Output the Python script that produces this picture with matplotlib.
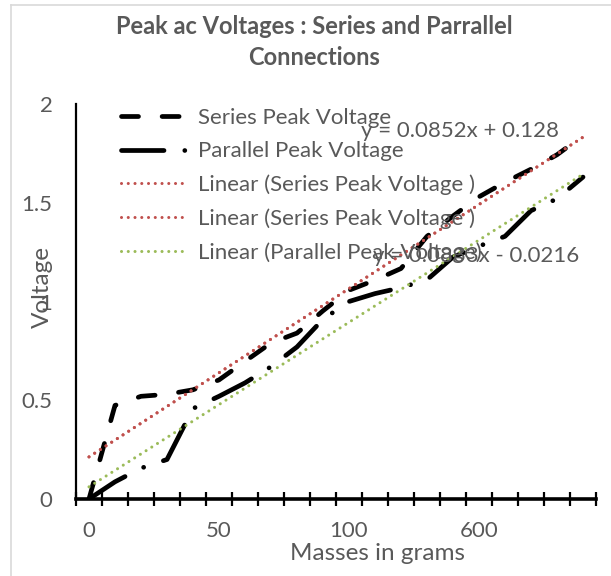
import numpy as np
import matplotlib
matplotlib.use('Agg')
import matplotlib.pyplot as plt
from matplotlib.ticker import FixedLocator, NullFormatter

# data (Excel line chart, category axis)
masses = [0, 10, 20, 30, 40, 50, 60, 70, 80, 90, 100,
          200, 300, 400, 500, 600, 700, 800, 900, 1000]
series_peak = [0.0, 0.474, 0.52, 0.53, 0.553, 0.603, 0.697, 0.79, 0.84, 0.953,
               1.057, 1.108, 1.167, 1.33, 1.433, 1.53, 1.604, 1.67, 1.743, 1.84]
parallel_peak = [0.0, 0.087, 0.156, 0.2, 0.458, 0.52, 0.588, 0.67, 0.77, 0.91,
                 1.0, 1.04, 1.07, 1.11, 1.225, 1.28, 1.33, 1.46, 1.52, 1.63]

# trendline coefficients as printed on the chart
series_fit = (0.0852, 0.128)
parallel_fit = (0.0833, -0.0216)
series_eq = "y = 0.0852x + 0.128"
parallel_eq = "y = 0.0833x - 0.0216"

shown_labels = {0: "0", 5: "50", 10: "100", 15: "600"}
yticks = [0, 0.5, 1, 1.5, 2]
yticklabels = ["0", "0.5", "1", "1.5", "2"]

GREY = "#595959"
RED = "#C0504D"
GREEN = "#9BBB59"

plt.rcParams['font.family'] = ['Lato', 'DejaVu Sans']

W, H = 611, 576
fig = plt.figure(figsize=(W / 100, H / 100), dpi=100)

# light chart-area border (top / left visible)
fig.add_artist(plt.Line2D([11 / W, 11 / W], [0, 1 - 5 / H], color="#D9D9D9", lw=1.2))
fig.add_artist(plt.Line2D([11 / W, 1], [1 - 5 / H, 1 - 5 / H], color="#D9D9D9", lw=1.2))

x0, x1, y0, y1 = 76, 596, 499, 104
ax = fig.add_axes([x0 / W, 1 - y0 / H, (x1 - x0) / W, (y0 - y1) / H])

pos = np.arange(len(masses))
ln_s, = ax.plot(pos, series_peak, color="black", lw=3.4, solid_capstyle="round",
                dash_capstyle="round", linestyle=(0, (3.6, 5.0)),
                label="Series Peak Voltage", zorder=2)
ln_p, = ax.plot(pos, parallel_peak, color="black", lw=3.4, dash_capstyle="round",
                linestyle=(0, (9.0, 4.4, 0.01, 4.4)),
                label="Parallel Peak Voltage", zorder=2)

xt = np.arange(1, len(masses) + 1)
dot = (0, (0.01, 2.2))
t1, = ax.plot(pos, series_fit[0] * xt + series_fit[1], color=RED, lw=2.2,
              linestyle=dot, dash_capstyle="round",
              label="Linear (Series Peak Voltage )", zorder=3)
t2, = ax.plot(pos, series_fit[0] * xt + series_fit[1], color=RED, lw=2.2,
              linestyle=dot, dash_capstyle="round",
              label="Linear (Series Peak Voltage )", zorder=3)
t3, = ax.plot(pos, parallel_fit[0] * xt + parallel_fit[1], color=GREEN, lw=2.2,
              linestyle=dot, dash_capstyle="round",
              label="Linear (Parallel Peak Voltage)", zorder=3)

ax.set_xlim(-0.5, len(masses) - 0.5)
ax.set_ylim(0, 2)

for s in ["top", "right"]:
    ax.spines[s].set_visible(False)
ax.spines["left"].set_linewidth(1.6)
ax.spines["bottom"].set_linewidth(2.6)

# category boundaries as crossing tick marks, labels at category centres
ax.xaxis.set_major_locator(FixedLocator(np.arange(-0.5, len(masses), 1.0)))
ax.xaxis.set_major_formatter(NullFormatter())
ax.xaxis.set_minor_locator(FixedLocator(pos))
ax.set_xticklabels([shown_labels.get(i, "") for i in pos], minor=True)
ax.tick_params(axis="x", which="major", direction="inout", length=10, width=1.6)
ax.tick_params(axis="x", which="minor", length=0, pad=16, labelsize=16, labelcolor=GREY)

ax.set_yticks(yticks)
ax.set_yticklabels(yticklabels)
ax.tick_params(axis="y", length=0, pad=17, labelsize=16, labelcolor=GREY)

fig.text(378 / W, 1 - 553 / H, "Masses in grams", ha="center", va="center",
         fontsize=17.5, color=GREY)
fig.text(42 / W, 1 - 287 / H, "Voltage", ha="center", va="center",
         rotation=90, fontsize=17.5, color=GREY)

fig.text(314 / W, 1 - 42 / H, "Peak ac Voltages : Series and Parrallel\nConnections",
         ha="center", va="center", fontsize=17, fontweight="bold", color=GREY,
         linespacing=1.4)

fig.text(460 / W, 1 - 131 / H, series_eq, ha="center", va="center",
         fontsize=16, color=GREY, zorder=5)
fig.text(476 / W, 1 - 256 / H, parallel_eq, ha="center", va="center",
         fontsize=16, color=GREY, zorder=5)

leg = fig.legend(handles=[ln_s, ln_p, t1, t2, t3], loc="upper left",
                 bbox_to_anchor=(121 / W, 1 - 108 / H), frameon=False,
                 fontsize=16, labelcolor=GREY, handlelength=2.95,
                 handletextpad=0.5, labelspacing=0.6, borderpad=0,
                 borderaxespad=0)

fig.savefig("out.png", dpi=100)
